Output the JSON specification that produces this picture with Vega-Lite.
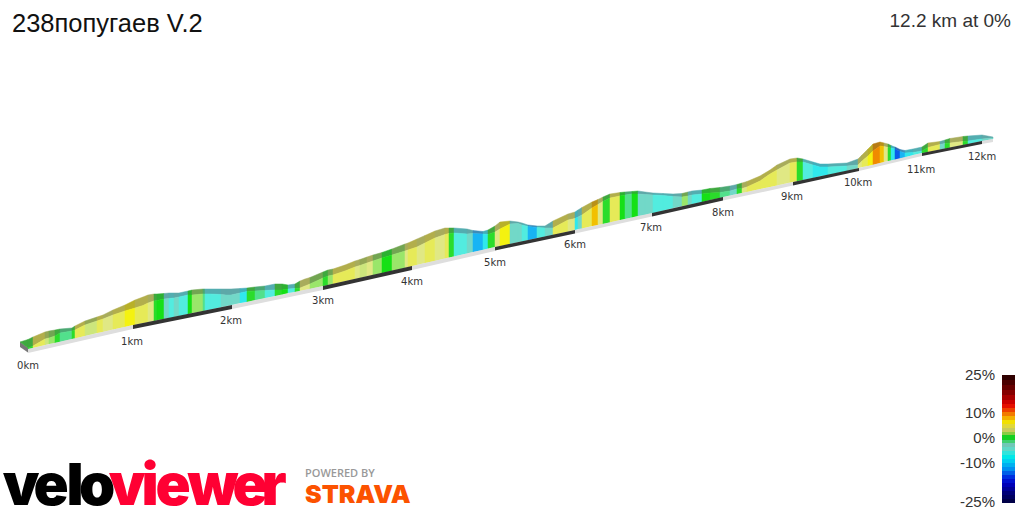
{
"$schema":"https://vega.github.io/schema/vega-lite/v6.json",
"width":1024,"height":512,"padding":0,
"autosize":{"type":"none"},
"background":"#ffffff",
"config":{"view":{"stroke":null}},
"datasets":{
"bands":[
{"s":0,"x":20,"b":342,"t":342,"k":342,"c":"g"},{"s":0,"x":28,"b":349,"t":348,"k":339.5,"c":"g"},
{"s":1,"x":28,"b":349,"t":348,"k":339.5,"c":"g"},{"s":1,"x":33,"b":348,"t":346,"k":337,"c":"g"},
{"s":2,"x":33,"b":348,"t":346,"k":337,"c":"y"},{"s":2,"x":45,"b":345,"t":339,"k":332,"c":"y"},
{"s":3,"x":45,"b":345,"t":339,"k":332,"c":"s"},{"s":3,"x":49,"b":344,"t":338,"k":331,"c":"s"},
{"s":4,"x":49,"b":344,"t":338,"k":331,"c":"l"},{"s":4,"x":55,"b":343,"t":336,"k":330,"c":"l"},
{"s":5,"x":55,"b":343,"t":336,"k":330,"c":"g"},{"s":5,"x":60,"b":342,"t":333,"k":329,"c":"g"},
{"s":6,"x":60,"b":342,"t":333,"k":329,"c":"m"},{"s":6,"x":72,"b":339,"t":331,"k":328,"c":"m"},
{"s":7,"x":72,"b":339,"t":331,"k":328,"c":"g"},{"s":7,"x":75,"b":338.5,"t":330,"k":326,"c":"g"},
{"s":8,"x":75,"b":338.5,"t":330,"k":326,"c":"y"},{"s":8,"x":85,"b":336,"t":325,"k":321,"c":"y"},
{"s":9,"x":85,"b":336,"t":325,"k":321,"c":"s"},{"s":9,"x":97,"b":333,"t":321,"k":317,"c":"s"},
{"s":10,"x":97,"b":333,"t":321,"k":317,"c":"y"},{"s":10,"x":103,"b":332,"t":319,"k":315,"c":"y"},
{"s":11,"x":103,"b":332,"t":319,"k":315,"c":"p"},{"s":11,"x":113,"b":329.5,"t":315,"k":310,"c":"p"},
{"s":12,"x":113,"b":329.5,"t":315,"k":310,"c":"y"},{"s":12,"x":125,"b":327,"t":311,"k":305,"c":"y"},
{"s":13,"x":125,"b":327,"t":311,"k":305,"c":"Y"},{"s":13,"x":135,"b":324.5,"t":308,"k":300,"c":"Y"},
{"s":14,"x":135,"b":324.5,"t":308,"k":300,"c":"y"},{"s":14,"x":143,"b":323,"t":305.5,"k":297,"c":"y"},
{"s":15,"x":143,"b":323,"t":305.5,"k":297,"c":"y"},{"s":15,"x":148,"b":322,"t":303,"k":295,"c":"y"},
{"s":16,"x":148,"b":322,"t":303,"k":295,"c":"p"},{"s":16,"x":154,"b":321,"t":301,"k":294,"c":"p"},
{"s":17,"x":154,"b":321,"t":301,"k":294,"c":"g"},{"s":17,"x":157,"b":320,"t":300.5,"k":294,"c":"g"},
{"s":18,"x":157,"b":320,"t":300.5,"k":294,"c":"G"},{"s":18,"x":164,"b":319,"t":299,"k":293.5,"c":"G"},
{"s":19,"x":164,"b":319,"t":299,"k":293.5,"c":"t"},{"s":19,"x":169,"b":318,"t":298.5,"k":293,"c":"t"},
{"s":20,"x":169,"b":318,"t":298.5,"k":293,"c":"c"},{"s":20,"x":174,"b":317,"t":298,"k":293,"c":"c"},
{"s":21,"x":174,"b":317,"t":298,"k":293,"c":"t"},{"s":21,"x":179,"b":316,"t":297,"k":293,"c":"t"},
{"s":22,"x":179,"b":316,"t":297,"k":293,"c":"c"},{"s":22,"x":188,"b":314,"t":295,"k":291,"c":"c"},
{"s":23,"x":188,"b":314,"t":295,"k":291,"c":"G"},{"s":23,"x":192,"b":313,"t":295,"k":290,"c":"G"},
{"s":24,"x":192,"b":313,"t":295,"k":290,"c":"l"},{"s":24,"x":203,"b":311,"t":294,"k":289,"c":"l"},
{"s":25,"x":203,"b":311,"t":294,"k":289,"c":"m"},{"s":25,"x":205,"b":310.5,"t":294,"k":289,"c":"m"},
{"s":26,"x":205,"b":310.5,"t":294,"k":289,"c":"c"},{"s":26,"x":210,"b":309.5,"t":294,"k":289,"c":"c"},
{"s":27,"x":210,"b":309.5,"t":294,"k":289,"c":"c"},{"s":27,"x":221,"b":307,"t":294.5,"k":289,"c":"c"},
{"s":28,"x":221,"b":307,"t":294.5,"k":289,"c":"t"},{"s":28,"x":226,"b":306,"t":295,"k":289,"c":"t"},
{"s":29,"x":226,"b":306,"t":295,"k":289,"c":"t"},{"s":29,"x":231,"b":305,"t":295,"k":289,"c":"t"},
{"s":30,"x":231,"b":305,"t":295,"k":289,"c":"t"},{"s":30,"x":240,"b":303,"t":293,"k":288.5,"c":"t"},
{"s":31,"x":240,"b":303,"t":293,"k":288.5,"c":"C"},{"s":31,"x":247,"b":302,"t":291.5,"k":288,"c":"C"},
{"s":32,"x":247,"b":302,"t":291.5,"k":288,"c":"g"},{"s":32,"x":255,"b":300,"t":291,"k":287,"c":"g"},
{"s":33,"x":255,"b":300,"t":291,"k":287,"c":"m"},{"s":33,"x":265,"b":298,"t":290.5,"k":286,"c":"m"},
{"s":34,"x":265,"b":298,"t":290.5,"k":286,"c":"c"},{"s":34,"x":275,"b":296,"t":290,"k":284,"c":"c"},
{"s":35,"x":275,"b":296,"t":290,"k":284,"c":"g"},{"s":35,"x":282,"b":294.5,"t":290,"k":284,"c":"g"},
{"s":36,"x":282,"b":294.5,"t":290,"k":284,"c":"G"},{"s":36,"x":288,"b":293,"t":289,"k":285,"c":"G"},
{"s":37,"x":288,"b":293,"t":289,"k":285,"c":"c"},{"s":37,"x":295,"b":292,"t":288.5,"k":284,"c":"c"},
{"s":38,"x":295,"b":292,"t":288.5,"k":284,"c":"g"},{"s":38,"x":300,"b":291,"t":288,"k":281,"c":"g"},
{"s":39,"x":300,"b":291,"t":288,"k":281,"c":"p"},{"s":39,"x":305,"b":290,"t":286,"k":279,"c":"p"},
{"s":40,"x":305,"b":290,"t":286,"k":279,"c":"p"},{"s":40,"x":310,"b":289,"t":284,"k":277.5,"c":"p"},
{"s":41,"x":310,"b":289,"t":284,"k":277.5,"c":"l"},{"s":41,"x":323,"b":286,"t":278,"k":272,"c":"l"},
{"s":42,"x":323,"b":286,"t":278,"k":272,"c":"g"},{"s":42,"x":328,"b":285,"t":276,"k":270,"c":"g"},
{"s":43,"x":328,"b":285,"t":276,"k":270,"c":"l"},{"s":43,"x":333,"b":284,"t":275,"k":269,"c":"l"},
{"s":44,"x":333,"b":284,"t":275,"k":269,"c":"y"},{"s":44,"x":345,"b":281,"t":271,"k":265,"c":"y"},
{"s":45,"x":345,"b":281,"t":271,"k":265,"c":"y"},{"s":45,"x":355,"b":279,"t":267,"k":261,"c":"y"},
{"s":46,"x":355,"b":279,"t":267,"k":261,"c":"p"},{"s":46,"x":360,"b":278,"t":265.5,"k":259.5,"c":"p"},
{"s":47,"x":360,"b":278,"t":265.5,"k":259.5,"c":"s"},{"s":47,"x":367,"b":276,"t":263,"k":257,"c":"s"},
{"s":48,"x":367,"b":276,"t":263,"k":257,"c":"p"},{"s":48,"x":373,"b":275,"t":261,"k":255,"c":"p"},
{"s":49,"x":373,"b":275,"t":261,"k":255,"c":"l"},{"s":49,"x":382,"b":273,"t":258,"k":252.5,"c":"l"},
{"s":50,"x":382,"b":273,"t":258,"k":252.5,"c":"G"},{"s":50,"x":392,"b":271,"t":255,"k":249,"c":"G"},
{"s":51,"x":392,"b":271,"t":255,"k":249,"c":"l"},{"s":51,"x":405,"b":268,"t":251,"k":244,"c":"l"},
{"s":52,"x":405,"b":268,"t":251,"k":244,"c":"p"},{"s":52,"x":408,"b":267,"t":250,"k":243,"c":"p"},
{"s":53,"x":408,"b":267,"t":250,"k":243,"c":"y"},{"s":53,"x":417,"b":265,"t":247,"k":239,"c":"y"},
{"s":54,"x":417,"b":265,"t":247,"k":239,"c":"p"},{"s":54,"x":425,"b":263,"t":243,"k":235.5,"c":"p"},
{"s":55,"x":425,"b":263,"t":243,"k":235.5,"c":"y"},{"s":55,"x":435,"b":261,"t":238,"k":231,"c":"y"},
{"s":56,"x":435,"b":261,"t":238,"k":231,"c":"p"},{"s":56,"x":445,"b":258.5,"t":234.5,"k":228,"c":"p"},
{"s":57,"x":445,"b":258.5,"t":234.5,"k":228,"c":"y"},{"s":57,"x":449,"b":257.5,"t":233.5,"k":228,"c":"y"},
{"s":58,"x":449,"b":257.5,"t":233.5,"k":228,"c":"g"},{"s":58,"x":454,"b":256.5,"t":233,"k":228,"c":"g"},
{"s":59,"x":454,"b":256.5,"t":233,"k":228,"c":"c"},{"s":59,"x":467,"b":253.5,"t":234,"k":229,"c":"c"},
{"s":60,"x":467,"b":253.5,"t":234,"k":229,"c":"t"},{"s":60,"x":473,"b":252,"t":233.5,"k":230.5,"c":"t"},
{"s":61,"x":473,"b":252,"t":233.5,"k":230.5,"c":"z"},{"s":61,"x":483,"b":250,"t":234,"k":231.5,"c":"z"},
{"s":62,"x":483,"b":250,"t":234,"k":231.5,"c":"C"},{"s":62,"x":488,"b":248.5,"t":234.5,"k":230,"c":"C"},
{"s":63,"x":488,"b":248.5,"t":234.5,"k":230,"c":"g"},{"s":63,"x":495,"b":247,"t":232,"k":226,"c":"g"},
{"s":64,"x":495,"b":247,"t":232,"k":226,"c":"p"},{"s":64,"x":500,"b":246,"t":229,"k":222,"c":"p"},
{"s":65,"x":500,"b":246,"t":229,"k":222,"c":"Y"},{"s":65,"x":510,"b":244,"t":224,"k":221,"c":"Y"},
{"s":66,"x":510,"b":244,"t":224,"k":221,"c":"t"},{"s":66,"x":518,"b":242,"t":223.5,"k":222,"c":"t"},
{"s":67,"x":518,"b":242,"t":223.5,"k":222,"c":"t"},{"s":67,"x":522,"b":241.5,"t":225,"k":223,"c":"t"},
{"s":68,"x":522,"b":241.5,"t":225,"k":223,"c":"c"},{"s":68,"x":528,"b":240,"t":226.5,"k":225,"c":"c"},
{"s":69,"x":528,"b":240,"t":226.5,"k":225,"c":"z"},{"s":69,"x":537,"b":238,"t":227.5,"k":226,"c":"z"},
{"s":70,"x":537,"b":238,"t":227.5,"k":226,"c":"c"},{"s":70,"x":545,"b":236.5,"t":228,"k":226,"c":"c"},
{"s":71,"x":545,"b":236.5,"t":228,"k":226,"c":"t"},{"s":71,"x":553,"b":235,"t":228,"k":221,"c":"t"},
{"s":72,"x":553,"b":235,"t":228,"k":221,"c":"y"},{"s":72,"x":568,"b":231.5,"t":220,"k":214,"c":"y"},
{"s":73,"x":568,"b":231.5,"t":220,"k":214,"c":"p"},{"s":73,"x":575,"b":230,"t":218.5,"k":212,"c":"p"},
{"s":74,"x":575,"b":230,"t":218.5,"k":212,"c":"C"},{"s":74,"x":578,"b":229,"t":217,"k":210,"c":"C"},
{"s":75,"x":578,"b":229,"t":217,"k":210,"c":"t"},{"s":75,"x":582,"b":228.5,"t":215,"k":207.5,"c":"t"},
{"s":76,"x":582,"b":228.5,"t":215,"k":207.5,"c":"y"},{"s":76,"x":592,"b":226,"t":208,"k":202,"c":"y"},
{"s":77,"x":592,"b":226,"t":208,"k":202,"c":"a"},{"s":77,"x":598,"b":225,"t":204.5,"k":199.5,"c":"a"},
{"s":78,"x":598,"b":225,"t":204.5,"k":199.5,"c":"p"},{"s":78,"x":603,"b":224,"t":201.5,"k":197,"c":"p"},
{"s":79,"x":603,"b":224,"t":201.5,"k":197,"c":"g"},{"s":79,"x":610,"b":222.5,"t":198,"k":194,"c":"g"},
{"s":80,"x":610,"b":222.5,"t":198,"k":194,"c":"y"},{"s":80,"x":620,"b":220,"t":196,"k":192.5,"c":"y"},
{"s":81,"x":620,"b":220,"t":196,"k":192.5,"c":"G"},{"s":81,"x":625,"b":219,"t":195,"k":192,"c":"G"},
{"s":82,"x":625,"b":219,"t":195,"k":192,"c":"m"},{"s":82,"x":632,"b":217.5,"t":194,"k":191.5,"c":"m"},
{"s":83,"x":632,"b":217.5,"t":194,"k":191.5,"c":"G"},{"s":83,"x":638,"b":216,"t":194,"k":191,"c":"G"},
{"s":84,"x":638,"b":216,"t":194,"k":191,"c":"t"},{"s":84,"x":645,"b":215,"t":194.5,"k":192,"c":"t"},
{"s":85,"x":645,"b":215,"t":194.5,"k":192,"c":"t"},{"s":85,"x":653,"b":213,"t":195,"k":193,"c":"t"},
{"s":86,"x":653,"b":213,"t":195,"k":193,"c":"c"},{"s":86,"x":663,"b":210.5,"t":195.5,"k":193.5,"c":"c"},
{"s":87,"x":663,"b":210.5,"t":195.5,"k":193.5,"c":"c"},{"s":87,"x":673,"b":208,"t":196.5,"k":194,"c":"c"},
{"s":88,"x":673,"b":208,"t":196.5,"k":194,"c":"t"},{"s":88,"x":682,"b":206,"t":197,"k":193.5,"c":"t"},
{"s":89,"x":682,"b":206,"t":197,"k":193.5,"c":"l"},{"s":89,"x":688,"b":205,"t":196,"k":192,"c":"l"},
{"s":90,"x":688,"b":205,"t":196,"k":192,"c":"t"},{"s":90,"x":692,"b":204,"t":195,"k":191,"c":"t"},
{"s":91,"x":692,"b":204,"t":195,"k":191,"c":"c"},{"s":91,"x":702,"b":202,"t":194,"k":190,"c":"c"},
{"s":92,"x":702,"b":202,"t":194,"k":190,"c":"G"},{"s":92,"x":710,"b":200,"t":193,"k":188.5,"c":"G"},
{"s":93,"x":710,"b":200,"t":193,"k":188.5,"c":"g"},{"s":93,"x":720,"b":198,"t":192.5,"k":187.5,"c":"g"},
{"s":94,"x":720,"b":198,"t":192.5,"k":187.5,"c":"m"},{"s":94,"x":730,"b":195.5,"t":191,"k":186,"c":"m"},
{"s":95,"x":730,"b":195.5,"t":191,"k":186,"c":"t"},{"s":95,"x":737,"b":194,"t":189,"k":184.5,"c":"t"},
{"s":96,"x":737,"b":194,"t":189,"k":184.5,"c":"g"},{"s":96,"x":742,"b":193,"t":188.5,"k":183,"c":"g"},
{"s":97,"x":742,"b":193,"t":188.5,"k":183,"c":"p"},{"s":97,"x":747,"b":192,"t":187,"k":181.5,"c":"p"},
{"s":98,"x":747,"b":192,"t":187,"k":181.5,"c":"y"},{"s":98,"x":760,"b":189,"t":181,"k":176,"c":"y"},
{"s":99,"x":760,"b":189,"t":181,"k":176,"c":"y"},{"s":99,"x":770,"b":187,"t":174,"k":170,"c":"y"},
{"s":100,"x":770,"b":187,"t":174,"k":170,"c":"y"},{"s":100,"x":777,"b":185.5,"t":170,"k":165,"c":"y"},
{"s":101,"x":777,"b":185.5,"t":170,"k":165,"c":"p"},{"s":101,"x":790,"b":182.5,"t":163,"k":159,"c":"p"},
{"s":102,"x":790,"b":182.5,"t":163,"k":159,"c":"y"},{"s":102,"x":797,"b":181,"t":162,"k":158,"c":"y"},
{"s":103,"x":797,"b":181,"t":162,"k":158,"c":"g"},{"s":103,"x":803,"b":180,"t":162,"k":159,"c":"g"},
{"s":104,"x":803,"b":180,"t":162,"k":159,"c":"c"},{"s":104,"x":813,"b":178,"t":165,"k":162,"c":"c"},
{"s":105,"x":813,"b":178,"t":165,"k":162,"c":"C"},{"s":105,"x":820,"b":176,"t":167,"k":164,"c":"C"},
{"s":106,"x":820,"b":176,"t":167,"k":164,"c":"C"},{"s":106,"x":828,"b":175,"t":167,"k":164,"c":"C"},
{"s":107,"x":828,"b":175,"t":167,"k":164,"c":"c"},{"s":107,"x":847,"b":171,"t":166,"k":163,"c":"c"},
{"s":108,"x":847,"b":171,"t":166,"k":163,"c":"t"},{"s":108,"x":858,"b":168,"t":165,"k":159,"c":"t"},
{"s":109,"x":858,"b":168,"t":165,"k":159,"c":"p"},{"s":109,"x":862,"b":167,"t":161,"k":155,"c":"p"},
{"s":110,"x":862,"b":167,"t":161,"k":155,"c":"y"},{"s":110,"x":868,"b":166,"t":156,"k":149,"c":"y"},
{"s":111,"x":868,"b":166,"t":156,"k":149,"c":"Y"},{"s":111,"x":873,"b":165,"t":151,"k":144,"c":"Y"},
{"s":112,"x":873,"b":165,"t":151,"k":144,"c":"o"},{"s":112,"x":880,"b":163,"t":146,"k":142,"c":"o"},
{"s":113,"x":880,"b":163,"t":146,"k":142,"c":"a"},{"s":113,"x":884,"b":162,"t":146.5,"k":143,"c":"a"},
{"s":114,"x":884,"b":162,"t":146.5,"k":143,"c":"p"},{"s":114,"x":888,"b":161,"t":147.5,"k":144,"c":"p"},
{"s":115,"x":888,"b":161,"t":147.5,"k":144,"c":"g"},{"s":115,"x":891,"b":160.5,"t":148,"k":145.5,"c":"g"},
{"s":116,"x":891,"b":160.5,"t":148,"k":145.5,"c":"C"},{"s":116,"x":895,"b":160,"t":149,"k":147,"c":"C"},
{"s":117,"x":895,"b":160,"t":149,"k":147,"c":"B"},{"s":117,"x":900,"b":158.5,"t":151.5,"k":149.5,"c":"B"},
{"s":118,"x":900,"b":158.5,"t":151.5,"k":149.5,"c":"z"},{"s":118,"x":905,"b":157.5,"t":153,"k":150.5,"c":"z"},
{"s":119,"x":905,"b":157.5,"t":153,"k":150.5,"c":"C"},{"s":119,"x":913,"b":155,"t":152.5,"k":149,"c":"C"},
{"s":120,"x":913,"b":155,"t":152.5,"k":149,"c":"c"},{"s":120,"x":922,"b":153,"t":151,"k":147,"c":"c"},
{"s":121,"x":922,"b":153,"t":151,"k":147,"c":"g"},{"s":121,"x":928,"b":152,"t":147.5,"k":143,"c":"g"},
{"s":122,"x":928,"b":152,"t":147.5,"k":143,"c":"y"},{"s":122,"x":940,"b":149.5,"t":144.5,"k":141.5,"c":"y"},
{"s":123,"x":940,"b":149.5,"t":144.5,"k":141.5,"c":"t"},{"s":123,"x":945,"b":148.5,"t":143.5,"k":140,"c":"t"},
{"s":124,"x":945,"b":148.5,"t":143.5,"k":140,"c":"g"},{"s":124,"x":950,"b":147.5,"t":143,"k":138.5,"c":"g"},
{"s":125,"x":950,"b":147.5,"t":143,"k":138.5,"c":"p"},{"s":125,"x":963,"b":145,"t":141.5,"k":136.5,"c":"p"},
{"s":126,"x":963,"b":145,"t":141.5,"k":136.5,"c":"g"},{"s":126,"x":968,"b":144,"t":141,"k":136,"c":"g"},
{"s":127,"x":968,"b":144,"t":141,"k":136,"c":"c"},{"s":127,"x":982,"b":141,"t":139,"k":135,"c":"c"},
{"s":128,"x":982,"b":141,"t":139,"k":135,"c":"t"},{"s":128,"x":993,"b":139,"t":138,"k":137,"c":"t"}
],
"strip":[
{"s":"a","x":28,"y":349,"y2":353,"c":"#dedede"},{"s":"a","x":133,"y":325,"y2":329,"c":"#dedede"},
{"s":"b","x":133,"y":325,"y2":329,"c":"#333333"},{"s":"b","x":232,"y":305,"y2":309,"c":"#333333"},
{"s":"c","x":232,"y":305,"y2":309,"c":"#dedede"},{"s":"c","x":323,"y":286,"y2":290,"c":"#dedede"},
{"s":"d","x":323,"y":286,"y2":290,"c":"#333333"},{"s":"d","x":412,"y":266,"y2":270,"c":"#333333"},
{"s":"e","x":412,"y":266,"y2":270,"c":"#dedede"},{"s":"e","x":495,"y":247,"y2":251,"c":"#dedede"},
{"s":"f","x":495,"y":247,"y2":250.5,"c":"#333333"},{"s":"f","x":575,"y":230,"y2":233.5,"c":"#333333"},
{"s":"g","x":575,"y":230,"y2":233.5,"c":"#dedede"},{"s":"g","x":652,"y":213,"y2":216.5,"c":"#dedede"},
{"s":"h","x":652,"y":213,"y2":216.5,"c":"#333333"},{"s":"h","x":723,"y":197,"y2":200.5,"c":"#333333"},
{"s":"i","x":723,"y":197,"y2":200.5,"c":"#dedede"},{"s":"i","x":793,"y":182,"y2":185.5,"c":"#dedede"},
{"s":"j","x":793,"y":182,"y2":185.5,"c":"#333333"},{"s":"j","x":859,"y":168,"y2":171,"c":"#333333"},
{"s":"k","x":859,"y":168,"y2":171,"c":"#dedede"},{"s":"k","x":922,"y":153,"y2":156,"c":"#dedede"},
{"s":"l","x":922,"y":153,"y2":156,"c":"#333333"},{"s":"l","x":982,"y":141,"y2":144,"c":"#333333"},
{"s":"m","x":982,"y":141,"y2":144,"c":"#dedede"},{"s":"m","x":993,"y":139,"y2":142,"c":"#dedede"}
],
"bar":[
{"x":1002,"x2":1015,"y":375,"y2":380,"c":"#2f0000"},{"x":1002,"x2":1015,"y":380,"y2":385,"c":"#4a0000"},{"x":1002,"x2":1015,"y":385,"y2":390,"c":"#660000"},{"x":1002,"x2":1015,"y":390,"y2":395,"c":"#850000"},
{"x":1002,"x2":1015,"y":395,"y2":400,"c":"#a80000"},{"x":1002,"x2":1015,"y":400,"y2":404,"c":"#cc0000"},{"x":1002,"x2":1015,"y":404,"y2":408,"c":"#e61000"},{"x":1002,"x2":1015,"y":408,"y2":412,"c":"#ee4000"},
{"x":1002,"x2":1015,"y":412,"y2":416,"c":"#f27a00"},{"x":1002,"x2":1015,"y":416,"y2":420,"c":"#f4b000"},{"x":1002,"x2":1015,"y":420,"y2":424,"c":"#f2e000"},{"x":1002,"x2":1015,"y":424,"y2":428,"c":"#e0d83a"},
{"x":1002,"x2":1015,"y":428,"y2":432,"c":"#c8cc5a"},{"x":1002,"x2":1015,"y":432,"y2":435,"c":"#88cc40"},{"x":1002,"x2":1015,"y":435,"y2":440,"c":"#14d020"},{"x":1002,"x2":1015,"y":440,"y2":443,"c":"#40d070"},
{"x":1002,"x2":1015,"y":443,"y2":447,"c":"#70c8b8"},{"x":1002,"x2":1015,"y":447,"y2":451,"c":"#60d8c8"},{"x":1002,"x2":1015,"y":451,"y2":455,"c":"#30e4dc"},{"x":1002,"x2":1015,"y":455,"y2":459,"c":"#00e8e8"},
{"x":1002,"x2":1015,"y":459,"y2":463,"c":"#00d0f0"},{"x":1002,"x2":1015,"y":463,"y2":467,"c":"#00b0f0"},{"x":1002,"x2":1015,"y":467,"y2":471,"c":"#0090f0"},{"x":1002,"x2":1015,"y":471,"y2":475,"c":"#0060e8"},
{"x":1002,"x2":1015,"y":475,"y2":479,"c":"#0030e0"},{"x":1002,"x2":1015,"y":479,"y2":483,"c":"#0010d0"},{"x":1002,"x2":1015,"y":483,"y2":487,"c":"#0000b8"},{"x":1002,"x2":1015,"y":487,"y2":491,"c":"#000098"},
{"x":1002,"x2":1015,"y":491,"y2":495,"c":"#000078"},{"x":1002,"x2":1015,"y":495,"y2":499,"c":"#000060"},{"x":1002,"x2":1015,"y":499,"y2":503,"c":"#000048"}
]
},
"encoding":{
"x":{"field":"x","type":"quantitative","scale":{"domain":[0,1024],"nice":false,"zero":false},"axis":null},
"y":{"field":"y","type":"quantitative","scale":{"domain":[512,0],"nice":false,"zero":false},"axis":null}
},
"layer":[
{"data":{"name":"bands"},"mark":{"type":"area","strokeWidth":0.5},
 "encoding":{"y":{"field":"t","type":"quantitative","scale":{"domain":[512,0],"nice":false,"zero":false},"axis":null},"y2":{"field":"k"},"detail":{"field":"s"},
 "color":{"field":"c","type":"nominal","legend":null,"scale":{"domain":["g","G","m","l","s","p","y","Y","a","o","t","c","C","z","B"],"range":["#3fa83f","#2cb032","#4aa873","#72a552","#93a755","#a8ac5c","#b2ae4c","#b8b028","#b89018","#b87a14","#5ea8a8","#53adb0","#42aeba","#3d8cb8","#2c68b0"]}},
 "stroke":{"field":"c","type":"nominal","legend":null,"scale":{"domain":["g","G","m","l","s","p","y","Y","a","o","t","c","C","z","B"],"range":["#3fa83f","#2cb032","#4aa873","#72a552","#93a755","#a8ac5c","#b2ae4c","#b8b028","#b89018","#b87a14","#5ea8a8","#53adb0","#42aeba","#3d8cb8","#2c68b0"]}}}},
{"data":{"name":"bands"},"mark":{"type":"area","strokeWidth":0.5},
 "encoding":{"y":{"field":"b","type":"quantitative","scale":{"domain":[512,0],"nice":false,"zero":false},"axis":null},"y2":{"field":"t"},"detail":{"field":"s"},
 "color":{"field":"c","type":"nominal","legend":null,"scale":{"domain":["g","G","m","l","s","p","y","Y","a","o","t","c","C","z","B"],"range":["#2bdc2b","#16e016","#52e08c","#9ae66a","#cce67c","#e0e884","#e6ea58","#f4f210","#f2c000","#f08a00","#72d8c8","#52ecdf","#30e8ec","#18b4f4","#0a5ce8"]}},
 "stroke":{"field":"c","type":"nominal","legend":null,"scale":{"domain":["g","G","m","l","s","p","y","Y","a","o","t","c","C","z","B"],"range":["#2bdc2b","#16e016","#52e08c","#9ae66a","#cce67c","#e0e884","#e6ea58","#f4f210","#f2c000","#f08a00","#72d8c8","#52ecdf","#30e8ec","#18b4f4","#0a5ce8"]}}}},
{"data":{"values":[{"x":20,"y":342,"y2":347},{"x":28,"y":348,"y2":352.5}]},"mark":{"type":"area","color":"#777777"},"encoding":{"y2":{"field":"y2"}}},
{"data":{"name":"strip"},"mark":{"type":"area"},"encoding":{"y2":{"field":"y2"},"detail":{"field":"s"},"color":{"field":"c","type":"nominal","scale":null}}},
{"data":{"values":[{"x":28,"y":366,"l":"0km"},{"x":132,"y":342,"l":"1km"},{"x":231,"y":321,"l":"2km"},{"x":323,"y":301,"l":"3km"},{"x":412,"y":282,"l":"4km"},{"x":495,"y":263,"l":"5km"},{"x":575,"y":245,"l":"6km"},{"x":651,"y":228,"l":"7km"},{"x":723,"y":213,"l":"8km"},{"x":792,"y":197,"l":"9km"},{"x":858,"y":183,"l":"10km"},{"x":921,"y":170,"l":"11km"},{"x":982,"y":157,"l":"12km"}]},
 "mark":{"type":"text","font":"DejaVu Sans","fontSize":10,"color":"#333333"},"encoding":{"text":{"field":"l"}}},
{"data":{"name":"bar"},"mark":{"type":"rect"},"encoding":{"x2":{"field":"x2"},"y2":{"field":"y2"},"color":{"field":"c","type":"nominal","scale":null}}},
{"data":{"values":[{"x":995,"y":375,"l":"25%"},{"x":995,"y":413,"l":"10%"},{"x":995,"y":438,"l":"0%"},{"x":995,"y":463,"l":"-10%"},{"x":995,"y":502,"l":"-25%"}]},
 "mark":{"type":"text","font":"Liberation Sans","fontSize":15,"align":"right","color":"#333333"},"encoding":{"text":{"field":"l"}}},
{"data":{"values":[{"x":12,"y":32,"l":"238попугаев V.2"}]},"mark":{"type":"text","font":"Liberation Sans","fontSize":25.5,"align":"left","baseline":"alphabetic","color":"#111111"},"encoding":{"text":{"field":"l"}}},
{"data":{"values":[{"x":1011,"y":27,"l":"12.2 km at 0%"}]},"mark":{"type":"text","font":"Liberation Sans","fontSize":19,"align":"right","baseline":"alphabetic","color":"#333333"},"encoding":{"text":{"field":"l"}}},
{"data":{"values":[{"x":21,"y":505,"l":"v"},{"x":51,"y":505,"l":"e"},{"x":75,"y":505,"l":"l"},{"x":97,"y":505,"l":"o"}]},"mark":{"type":"text","font":"Inter","fontSize":58,"fontWeight":900,"baseline":"alphabetic","color":"#000000"},"encoding":{"text":{"field":"l"}}},
{"data":{"values":[{"x":127,"y":505,"l":"v"},{"x":150,"y":505,"l":"i"},{"x":173,"y":505,"l":"e"},{"x":213,"y":505,"l":"w"},{"x":250,"y":505,"l":"e"},{"x":274,"y":505,"l":"r"}]},"mark":{"type":"text","font":"Inter","fontSize":58,"fontWeight":900,"baseline":"alphabetic","color":"#ff0033"},"encoding":{"text":{"field":"l"}}},
{"data":{"values":[{"x":305,"y":477,"l":"POWERED BY"}]},"mark":{"type":"text","font":"Open Sans","fontSize":11,"fontWeight":600,"align":"left","baseline":"alphabetic","color":"#999999"},"encoding":{"text":{"field":"l"}}},
{"data":{"values":[{"x":305,"y":503,"l":"STRAVA"}]},"mark":{"type":"text","font":"Inter","fontSize":25,"fontWeight":900,"align":"left","baseline":"alphabetic","color":"#fc5200"},"encoding":{"text":{"field":"l"}}}
],
"resolve":{"scale":{"color":"independent","stroke":"independent"}}
}
